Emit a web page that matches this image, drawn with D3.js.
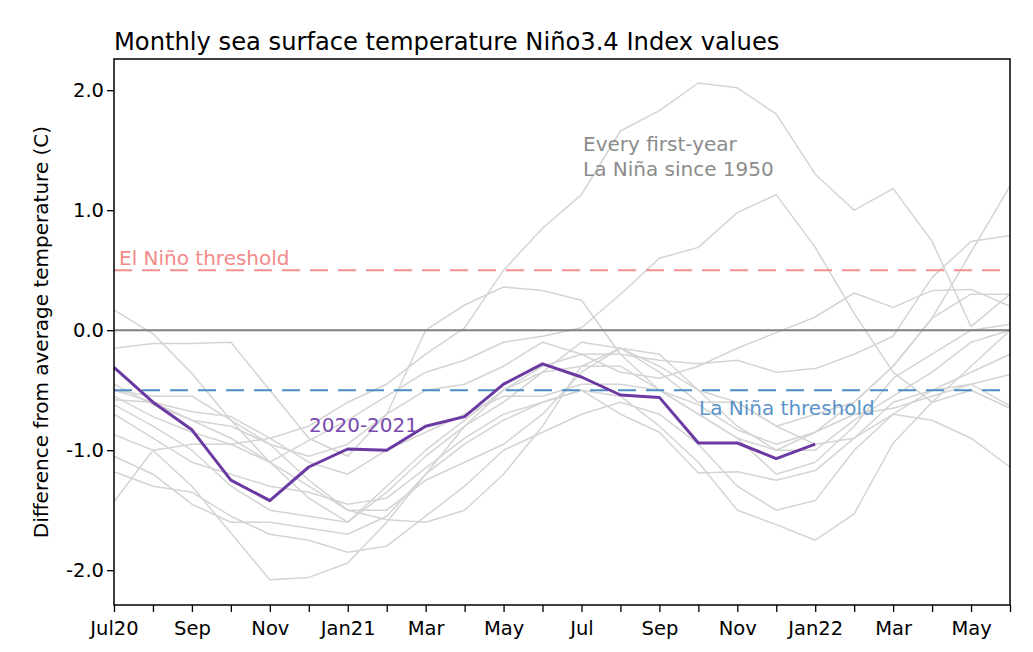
<!DOCTYPE html>
<html>
<head>
<meta charset="utf-8">
<script src="https://cdn.jsdelivr.net/npm/d3@7"></script>
<style>
  html, body { margin: 0; padding: 0; background: #fff; }
  svg text { font-family: "DejaVu Sans", sans-serif; }
</style>
</head>
<body>
<svg id="chart" width="1033" height="652"></svg>
<script>
// ---- data ----
const months = ["Jul20","Aug","Sep","Oct","Nov","Dec","Jan21","Feb","Mar","Apr","May","Jun",
                "Jul","Aug","Sep","Oct","Nov","Dec","Jan22","Feb","Mar","Apr","May","Jun"];
const tickLabels = ["Jul20","Sep","Nov","Jan21","Mar","May","Jul","Sep","Nov","Jan22","Mar","May"];
const yTicks = [2.0, 1.0, 0.0, -1.0, -2.0];

const current2020 = [-0.31,-0.60,-0.83,-1.25,-1.42,-1.14,-0.99,-1.00,-0.80,-0.72,-0.45,-0.28,
                     -0.39,-0.54,-0.56,-0.94,-0.94,-1.07,-0.95];

const pastA = [-0.55,-0.72,-0.85,-0.95,-0.90,-0.80,-0.60,-0.45,-0.20,0.02,0.50,0.85,1.13,1.66,1.83,2.06,2.02,1.80,1.30,1.00,1.18,0.74,0.03,0.30];
const pastB = [0.17,-0.03,-0.36,-0.75,-1.10,-0.92,-0.75,-0.55,-0.35,-0.25,-0.10,-0.05,0.02,0.30,0.60,0.69,0.98,1.13,0.69,0.14,-0.35,-0.60,-0.50,-0.65];
const pastC = [-0.15,-0.11,-0.11,-0.10,-0.50,-0.90,-1.05,-0.70,0.00,0.21,0.36,0.33,0.25,-0.20,-0.50,-0.70,-0.90,-1.00,-0.85,-0.60,-0.30,0.10,0.30,0.30];
const pastD = [-0.50,-0.55,-0.55,-0.75,-0.95,-1.05,-0.95,-0.70,-0.50,-0.45,-0.30,-0.10,-0.20,-0.35,-0.40,-0.30,-0.15,-0.02,0.11,0.31,0.19,0.33,0.34,0.20];
const pastE = [-0.87,-1.00,-1.30,-1.69,-2.08,-2.06,-1.94,-1.60,-1.20,-0.95,-0.75,-0.60,-0.50,-0.55,-0.80,-1.10,-1.50,-1.62,-1.75,-1.53,-0.94,-0.60,-0.30,0.00];
const pastF = [-1.43,-1.00,-0.95,-0.95,-1.10,-1.40,-1.60,-1.35,-1.05,-0.80,-0.60,-0.35,-0.10,-0.15,-0.30,-0.50,-0.60,-0.80,-0.70,-0.60,-0.30,0.10,0.65,1.20];
const pastG = [-0.62,-0.80,-1.00,-1.30,-1.50,-1.55,-1.60,-1.30,-1.00,-0.75,-0.50,-0.30,-0.20,-0.20,-0.25,-0.28,-0.25,-0.35,-0.32,-0.20,-0.05,0.44,0.74,0.79];
const pastH = [-0.70,-0.90,-1.10,-1.20,-1.30,-1.35,-1.45,-1.40,-1.15,-0.90,-0.70,-0.60,-0.50,-0.70,-0.85,-1.19,-1.18,-1.25,-1.17,-0.90,-0.70,-0.50,-0.45,-0.37];
const pastI = [-1.18,-1.30,-1.35,-1.55,-1.70,-1.75,-1.85,-1.80,-1.55,-1.30,-1.00,-0.85,-0.70,-0.60,-0.70,-0.95,-1.30,-1.50,-1.42,-1.00,-0.70,-0.75,-0.90,-1.14];
const pastJ = [-0.50,-0.60,-0.75,-0.90,-1.10,-1.30,-1.50,-1.50,-1.25,-1.10,-0.95,-0.70,-0.35,-0.15,-0.20,-0.50,-0.80,-1.00,-1.00,-0.75,-0.55,-0.35,-0.10,0.00];
const pastK = [-1.05,-1.20,-1.45,-1.60,-1.60,-1.65,-1.70,-1.55,-1.20,-0.80,-0.50,-0.35,-0.30,-0.15,-0.35,-0.60,-0.60,-0.80,-0.95,-0.90,-0.60,-0.50,-0.35,-0.20];
const pastL = [-0.58,-0.60,-0.68,-0.72,-0.90,-1.10,-1.20,-1.00,-0.85,-0.70,-0.55,-0.55,-0.45,-0.45,-0.50,-0.62,-0.83,-0.95,-0.85,-0.70,-0.65,-0.55,-0.45,-0.63];
const pastM = [-0.45,-0.62,-0.75,-0.80,-0.95,-1.25,-1.50,-1.58,-1.60,-1.50,-1.20,-0.80,-0.30,-0.30,-0.50,-0.70,-0.90,-1.20,-1.10,-0.80,-0.40,-0.20,0.00,0.05];

const pastSeries = [pastA,pastB,pastC,pastD,pastE,pastF,pastG,pastH,pastI,pastJ,pastK,pastL,pastM];

const elNinoThreshold = 0.5;
const laNinaThreshold = -0.5;

// ---- layout ----
const svg = d3.select("#chart");
const plotLeft = 114, plotRight = 1010, plotTop = 59, plotBottom = 605;

const x = d3.scaleLinear().domain([0, months.length - 1]).range([plotLeft, plotRight]);
const y = d3.scaleLinear().domain([-2.29, 2.26]).range([plotBottom, plotTop]);

const line = d3.line().x((d, i) => x(i)).y(d => y(d));

const g = svg.append("g");

// gray past events
g.selectAll("path.past").data(pastSeries).enter().append("path")
  .attr("class", "past")
  .attr("d", d => line(d))
  .attr("fill", "none")
  .attr("stroke", "#d4d4d4")
  .attr("stroke-width", 1.5)
  .attr("stroke-linejoin", "round");

// zero line
g.append("line")
  .attr("x1", plotLeft).attr("x2", plotRight)
  .attr("y1", y(0)).attr("y2", y(0))
  .attr("stroke", "#808080").attr("stroke-width", 2);

// thresholds
g.append("line")
  .attr("x1", plotLeft).attr("x2", plotRight)
  .attr("y1", y(elNinoThreshold)).attr("y2", y(elNinoThreshold))
  .attr("stroke", "#f49090").attr("stroke-width", 2)
  .attr("stroke-dasharray", "18,10");

g.append("line")
  .attr("x1", plotLeft).attr("x2", plotRight)
  .attr("y1", y(laNinaThreshold)).attr("y2", y(laNinaThreshold))
  .attr("stroke", "#4f8cc4").attr("stroke-width", 2)
  .attr("stroke-dasharray", "18,10");

// 2020-2021 line
g.append("path")
  .attr("d", line(current2020))
  .attr("fill", "none")
  .attr("stroke", "#6a3aa2")
  .attr("stroke-width", 3)
  .attr("stroke-linejoin", "round");

// annotations
g.append("text").attr("x", 119).attr("y", y(elNinoThreshold) - 5)
  .attr("font-size", 20).attr("fill", "#f28a8a").text("El Niño threshold");
g.append("text").attr("x", 699).attr("y", y(laNinaThreshold) + 25)
  .attr("font-size", 20).attr("fill", "#5a93c8").text("La Niña threshold");
g.append("text").attr("x", 309).attr("y", 432)
  .attr("font-size", 20).attr("fill", "#7a4ab0").text("2020-2021");
g.append("text").attr("x", 583).attr("y", 151)
  .attr("font-size", 20).attr("fill", "#8c8c8c").text("Every first-year");
g.append("text").attr("x", 583).attr("y", 176)
  .attr("font-size", 20).attr("fill", "#8c8c8c").text("La Niña since 1950");

// frame
g.append("rect")
  .attr("x", plotLeft).attr("y", plotTop)
  .attr("width", plotRight - plotLeft).attr("height", plotBottom - plotTop)
  .attr("fill", "none").attr("stroke", "#000").attr("stroke-width", 1.5);

// axes
const xAxis = d3.axisBottom(x)
  .tickValues(d3.range(months.length))
  .tickSize(7)
  .tickFormat(i => (i % 2 === 0 ? tickLabels[i / 2] : ""));
const xa = svg.append("g").attr("transform", `translate(0,${plotBottom})`).call(xAxis);
xa.select(".domain").remove();
xa.selectAll(".tick line").attr("stroke", "#000").attr("stroke-width", 1.3);
xa.selectAll(".tick text").attr("font-size", 19.5).attr("fill", "#000")
  .attr("font-family", "DejaVu Sans").attr("dy", "1.05em");

const yAxis = d3.axisLeft(y)
  .tickValues(yTicks)
  .tickSize(7)
  .tickFormat(d => d.toFixed(1));
const ya = svg.append("g").attr("transform", `translate(${plotLeft},0)`).call(yAxis);
ya.select(".domain").remove();
ya.selectAll(".tick line").attr("stroke", "#000").attr("stroke-width", 1.3);
ya.selectAll(".tick text").attr("font-size", 19.5).attr("fill", "#000")
  .attr("font-family", "DejaVu Sans").attr("x", -10);

// title
svg.append("text").attr("x", plotLeft).attr("y", 50)
  .attr("font-size", 24.2).attr("fill", "#000")
  .text("Monthly sea surface temperature Niño3.4 Index values");

// y label
svg.append("text")
  .attr("transform", `translate(48,${(plotTop + plotBottom) / 2}) rotate(-90)`)
  .attr("text-anchor", "middle")
  .attr("font-size", 20).attr("fill", "#000")
  .text("Difference from average temperature (C)");
</script>
</body>
</html>
